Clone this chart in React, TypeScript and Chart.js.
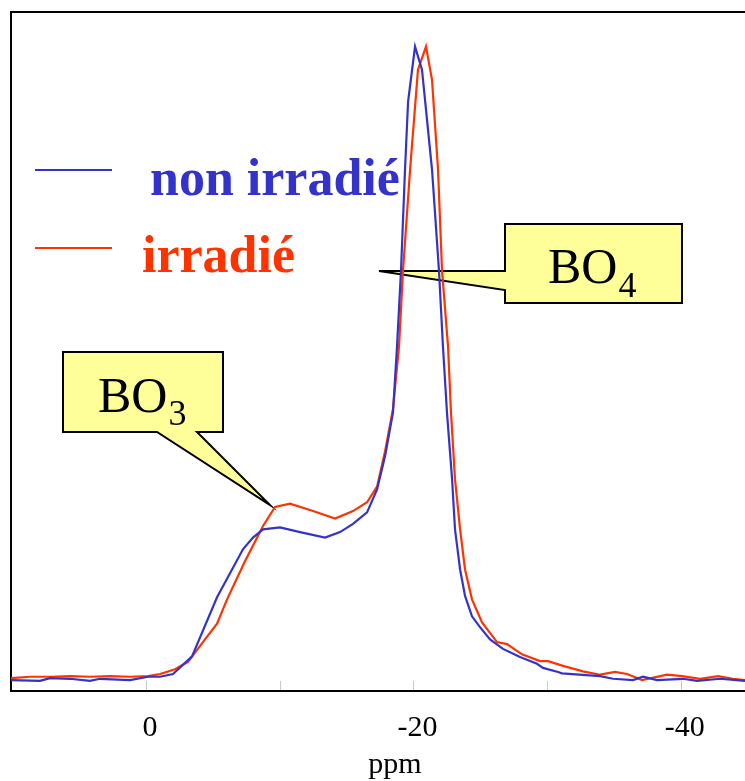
import { useEffect, useRef } from "react";
import { Chart, registerables } from "chart.js";

Chart.register(...registerables);

// Chemical shift (ppm) and intensity (arbitrary units, 0-100)
const ppmNonIrradie = [10.1, 7.93, 7.18, 5.68, 4.19, 3.44, 1.2, -0.15, -1.05, -2.02, -3.44, -5.31, -7.26, -8.0, -8.75, -10.02, -11.52, -13.39, -14.51, -15.48, -16.53, -17.28, -17.88, -18.47, -18.77, -19.07, -19.37, -19.6, -20.12, -20.64, -21.39, -21.91, -22.21, -22.51, -22.89, -23.11, -23.49, -23.86, -24.38, -24.98, -25.73, -26.7, -27.97, -29.24, -29.69, -30.82, -31.11, -33.96, -34.93, -36.42, -37.17, -38.22, -40.16, -41.21, -42.93, -44.8];
const intNonIrradie = [1.6, 1.5, 1.9, 1.8, 1.5, 1.8, 1.6, 2.1, 2.1, 2.5, 5.1, 13.8, 20.9, 22.6, 23.8, 24.1, 23.4, 22.6, 23.4, 24.6, 26.3, 29.7, 34.6, 41.0, 50.7, 61.9, 76.8, 86.8, 94.9, 91.5, 76.8, 61.9, 50.7, 41.0, 31.2, 23.8, 17.9, 14.0, 11.0, 9.4, 7.6, 6.2, 5.0, 4.0, 3.4, 2.8, 2.6, 2.2, 1.8, 1.6, 2.1, 1.6, 1.8, 1.5, 1.8, 1.5];

const ppmIrradie = [10.1, 8.68, 7.18, 5.68, 4.19, 2.69, 1.2, -0.15, -1.05, -2.17, -3.14, -4.41, -5.31, -6.06, -7.4, -8.75, -9.65, -10.77, -12.49, -14.14, -15.48, -16.53, -17.28, -17.88, -18.47, -18.92, -19.22, -19.75, -20.34, -20.94, -21.39, -21.84, -22.14, -22.59, -22.81, -23.11, -23.49, -23.86, -24.38, -25.13, -26.25, -27.0, -28.12, -29.47, -30.07, -31.19, -32.68, -33.96, -35.08, -35.98, -37.1, -38.97, -40.09, -41.44, -42.78, -43.9, -44.8];
const intIrradie = [1.9, 2.1, 2.1, 2.2, 2.1, 2.2, 2.1, 2.2, 2.5, 3.2, 4.3, 7.6, 9.9, 13.5, 19.1, 24.3, 27.1, 27.6, 26.5, 25.4, 26.5, 27.8, 30.1, 35.3, 41.5, 50.7, 61.9, 76.8, 91.5, 94.9, 90.0, 76.8, 61.9, 50.7, 41.0, 31.2, 23.8, 17.9, 13.5, 10.1, 7.2, 6.9, 5.4, 4.4, 4.4, 3.7, 2.9, 2.4, 2.8, 2.5, 1.6, 2.4, 2.2, 1.8, 2.2, 1.8, 1.6];

const seriesNames = ["non irradié", "irradié"];
const seriesColors = ["#3333CC", "#FF3300"];
const xMin = -44.8;
const xMax = 10.1;
const xStep = 10;
const xLabelStep = 20;
const xTitle = "ppm";

const SERIF = "'Liberation Serif', 'Times New Roman', serif";

function drawSubLabel(ctx: CanvasRenderingContext2D, main: string, sub: string, x: number, y: number, subY: number) {
  ctx.fillStyle = "#000";
  ctx.textAlign = "left";
  ctx.textBaseline = "alphabetic";
  ctx.font = `50px ${SERIF}`;
  ctx.fillText(main, x, y);
  const w = ctx.measureText(main).width;
  ctx.font = `36px ${SERIF}`;
  ctx.fillText(sub, x + w + 1, subY);
}

const overlayPlugin = {
  id: "overlay",
  beforeDatasetsDraw(chart: any) {
    const { ctx, chartArea } = chart;
    const { left, top, right, bottom } = chartArea;
    const xs = chart.scales.x;
    ctx.save();
    // inner tick marks
    ctx.strokeStyle = "#c8c8c8";
    ctx.lineWidth = 1;
    xs.ticks.forEach((t: any) => {
      const px = xs.getPixelForValue(t.value);
      if (px <= left + 3 || px >= right - 3) return;
      const rx = Math.round(px) + 0.5;
      ctx.beginPath();
      ctx.moveTo(rx, bottom - 1);
      ctx.lineTo(rx, bottom - 10);
      ctx.stroke();
    });
    // frame (left + top)
    ctx.strokeStyle = "#000";
    ctx.lineWidth = 2;
    ctx.beginPath();
    ctx.moveTo(left, bottom);
    ctx.lineTo(left, top);
    ctx.lineTo(right, top);
    ctx.stroke();

    // legend
    const legendRows = [
      { lineY: 170, textX: 150, textY: 195 },
      { lineY: 248, textX: 142, textY: 272 },
    ];
    legendRows.forEach((r, i) => {
      ctx.strokeStyle = seriesColors[i];
      ctx.lineWidth = 2;
      ctx.beginPath();
      ctx.moveTo(35, r.lineY);
      ctx.lineTo(112, r.lineY);
      ctx.stroke();
      ctx.fillStyle = seriesColors[i];
      ctx.font = `bold 52px ${SERIF}`;
      ctx.textAlign = "left";
      ctx.textBaseline = "alphabetic";
      ctx.fillText(seriesNames[i], r.textX, r.textY);
    });

    // callouts
    ctx.fillStyle = "#FFFF99";
    ctx.strokeStyle = "#000";
    ctx.lineWidth = 2;
    ctx.lineJoin = "miter";
    // BO4
    ctx.beginPath();
    ctx.moveTo(505, 224);
    ctx.lineTo(682, 224);
    ctx.lineTo(682, 303);
    ctx.lineTo(505, 303);
    ctx.lineTo(505, 290);
    ctx.lineTo(379, 271);
    ctx.lineTo(505, 271);
    ctx.closePath();
    ctx.fill();
    ctx.stroke();
    // BO3
    ctx.fillStyle = "#FFFF99";
    ctx.beginPath();
    ctx.moveTo(63, 352);
    ctx.lineTo(223, 352);
    ctx.lineTo(223, 432);
    ctx.lineTo(197, 432);
    ctx.lineTo(270, 505);
    ctx.lineTo(157, 432);
    ctx.lineTo(63, 432);
    ctx.closePath();
    ctx.fill();
    ctx.stroke();

    drawSubLabel(ctx, "BO", "4", 548, 283, 297);
    drawSubLabel(ctx, "BO", "3", 98, 412, 425);
    ctx.restore();
  },
  afterDraw(chart: any) {
    const { ctx } = chart;
    ctx.save();
    ctx.fillStyle = "#000";
    ctx.font = `30px ${SERIF}`;
    ctx.textAlign = "center";
    ctx.textBaseline = "alphabetic";
    ctx.fillText(xTitle, 395, 773);
    ctx.restore();
  },
};

export default function App() {
  const canvasRef = useRef<HTMLCanvasElement | null>(null);

  useEffect(() => {
    document.body.style.margin = "0";
    const canvas = canvasRef.current;
    if (!canvas) return;
    const blue = ppmNonIrradie.map((x, i) => ({ x, y: intNonIrradie[i] }));
    const red = ppmIrradie.map((x, i) => ({ x, y: intIrradie[i] }));
    const chart = new Chart(canvas, {
      type: "line",
      data: {
        datasets: [
          {
            label: seriesNames[0],
            data: blue,
            borderColor: seriesColors[0],
            borderWidth: 2.2,
            pointRadius: 0,
            tension: 0,
            fill: false,
          },
          {
            label: seriesNames[1],
            data: red,
            borderColor: seriesColors[1],
            borderWidth: 2.2,
            pointRadius: 0,
            tension: 0,
            fill: false,
          },
        ],
      },
      options: {
        responsive: false,
        animation: false,
        maintainAspectRatio: false,
        layout: { padding: { left: 11, top: 12, right: 0, bottom: 20 } },
        plugins: {
          legend: { display: false },
          tooltip: { enabled: false },
          title: { display: false },
        },
        scales: {
          x: {
            type: "linear",
            reverse: true,
            min: xMin,
            max: xMax,
            position: "bottom",
            grid: { display: false, drawTicks: false },
            border: { display: true, color: "#000", width: 2 },
            afterFit: (scale: any) => {
              scale.height = 70;
              scale.paddingLeft = 0;
              scale.paddingRight = 0;
            },
            ticks: {
              stepSize: xStep,
              includeBounds: false,
              autoSkip: false,
              maxRotation: 0,
              padding: 19,
              labelOffset: 4,
              color: "#000",
              font: { family: SERIF, size: 30 },
              callback: (v: any) => (Number(v) % xLabelStep === 0 ? String(v) : ""),
            },
          },
          y: {
            display: false,
            min: 0,
            max: 100,
          },
        },
      },
      plugins: [overlayPlugin],
    });
    return () => chart.destroy();
  }, []);

  return (
    <div style={{ width: 745, height: 781, background: "#fff" }}>
      <canvas ref={canvasRef} width={745} height={781} style={{ display: "block" }} />
    </div>
  );
}
